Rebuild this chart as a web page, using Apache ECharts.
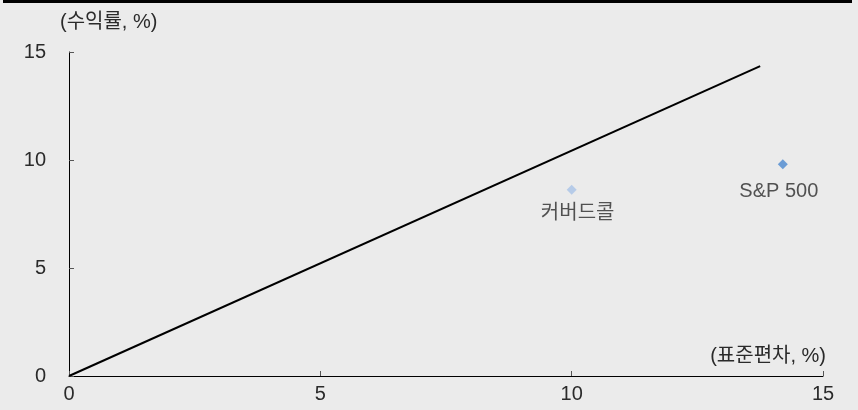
<!DOCTYPE html>
<html>
<head>
<meta charset="utf-8">
<script src="https://cdn.jsdelivr.net/npm/echarts@6/dist/echarts.min.js"></script>
<style>
html,body{margin:0;padding:0;background:#ebebeb;}
#conMain{width:858px;height:410px;}
</style>
</head>
<body>
<div id="conMain"></div>
<script>
// 자본시장선 (직선)
var lineData = [[0, 0], [13.75, 14.35]];
// 포트폴리오 점
var pointNames = ['커버드콜', 'S&P 500'];
var pointX = [10.0, 14.2];
var pointY = [8.62, 9.8];
var pointColors = ['#a9c3e7', '#4b88d0'];
var axisTicks = [0, 5, 10, 15];

var font = '"Liberation Sans", "Noto Sans CJK KR", sans-serif';
var labelGap = [9, 12];
var labelShift = [6, -4];

var series = [{
    type: 'line',
    data: lineData,
    symbol: 'none',
    lineStyle: {color: '#000', width: 2},
    silent: true
}];
for (var i = 0; i < pointNames.length; i++) {
    series.push({
        name: pointNames[i],
        type: 'scatter',
        symbol: 'diamond',
        symbolSize: 10,
        itemStyle: {color: pointColors[i]},
        label: {
            show: true,
            position: 'bottom',
            distance: labelGap[i],
            offset: [labelShift[i], 0],
            formatter: pointNames[i],
            color: '#2a2a2a',
            fontSize: 20,
            fontFamily: font
        },
        data: [[pointX[i], pointY[i]]]
    });
}

var option = {
    backgroundColor: '#ebebeb',
    animation: false,
    grid: {left: 69, right: 35, top: 52, bottom: 34},
    graphic: [{
        type: 'rect',
        shape: {x: 3, y: 0, width: 849, height: 3},
        style: {fill: '#000'}
    }],
    xAxis: {
        type: 'value',
        min: axisTicks[0],
        max: axisTicks[3],
        interval: 5,
        name: '(표준편차, %)',
        nameLocation: 'end',
        nameGap: 0,
        nameTextStyle: {
            align: 'right', verticalAlign: 'bottom', padding: [0, -3, 10, 0],
            color: '#2a2a2a', fontSize: 20, fontFamily: font
        },
        axisLine: {lineStyle: {color: '#000', width: 1}},
        axisTick: {show: true, inside: false, length: -5, lineStyle: {color: '#555'}},
        axisLabel: {margin: 8, color: '#2a2a2a', fontSize: 20, fontFamily: font},
        splitLine: {show: false}
    },
    yAxis: {
        type: 'value',
        min: axisTicks[0],
        max: axisTicks[3],
        interval: 5,
        name: '(수익률, %)',
        nameLocation: 'end',
        nameGap: 20,
        nameTextStyle: {
            align: 'left', padding: [0, 0, 0, -9],
            color: '#2a2a2a', fontSize: 20, fontFamily: font
        },
        axisLine: {show: true, lineStyle: {color: '#000', width: 1}},
        axisTick: {show: true, inside: false, length: -5, lineStyle: {color: '#555'}},
        axisLabel: {margin: 23, color: '#2a2a2a', fontSize: 20, fontFamily: font},
        splitLine: {show: false}
    },
    series: series
};

var myChart = echarts.init(document.getElementById('conMain'));
myChart.setOption(option);
</script>
</body>
</html>
